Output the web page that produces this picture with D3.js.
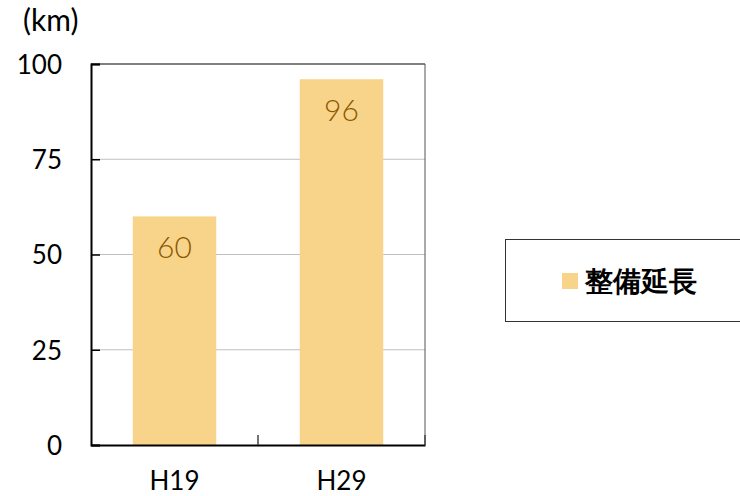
<!DOCTYPE html>
<html>
<head>
<meta charset="utf-8">
<script src="https://cdn.jsdelivr.net/npm/d3@7"></script>
<style>
  body { margin: 0; background: #fff; }
  text { font-family: Lato, "Noto Sans", sans-serif; }
</style>
</head>
<body>
<svg id="chart" width="740" height="496"></svg>
<script>
const categories = ["H19", "H29"];
const values = [60, 96];
const yTicks = [0, 25, 50, 75, 100];
const seriesName = "整備延長";
const unitLabel = "(km)";

const width = 740;
const height = 496;
const margin = { top: 64, right: 315, bottom: 51, left: 91 };
const innerW = width - margin.left - margin.right;
const innerH = height - margin.top - margin.bottom;

const svg = d3.select("#chart");

const x = d3.scaleBand()
    .domain(categories)
    .range([margin.left, margin.left + innerW])
    .paddingInner(0.5)
    .paddingOuter(0.25);

const y = d3.scaleLinear()
    .domain([0, 100])
    .range([margin.top + innerH, margin.top]);

// gridlines
svg.append("g")
    .selectAll("line")
    .data(yTicks.filter(d => d > 0 && d < 100))
    .enter().append("line")
    .attr("x1", margin.left)
    .attr("x2", margin.left + innerW)
    .attr("y1", d => y(d))
    .attr("y2", d => y(d))
    .attr("stroke", "#c0c0c0")
    .attr("stroke-width", 1);

// top and right frame
svg.append("line")
    .attr("x1", margin.left).attr("x2", margin.left + innerW)
    .attr("y1", y(100)).attr("y2", y(100))
    .attr("stroke", "#000").attr("stroke-width", 1.2);
svg.append("line")
    .attr("x1", margin.left + innerW).attr("x2", margin.left + innerW)
    .attr("y1", y(100)).attr("y2", y(0))
    .attr("stroke", "#555").attr("stroke-width", 1);

// bars
svg.append("g")
    .selectAll("rect")
    .data(values)
    .enter().append("rect")
    .attr("x", (d, i) => x(categories[i]))
    .attr("y", d => y(d))
    .attr("width", x.bandwidth())
    .attr("height", d => y(0) - y(d))
    .attr("fill", "#f8d38a");

// data labels
svg.append("g")
    .selectAll("text")
    .data(values)
    .enter().append("text")
    .attr("x", (d, i) => x(categories[i]) + x.bandwidth() / 2)
    .attr("y", d => y(d) + 42)
    .attr("text-anchor", "middle")
    .attr("font-size", 30)
    .attr("font-weight", 300)
    .attr("fill", "#8a5800")
    .text(d => d);

// y axis
const yAxis = svg.append("g")
    .attr("transform", `translate(${margin.left},0)`)
    .call(d3.axisLeft(y).tickValues(yTicks).tickSize(-9).tickPadding(29));
yAxis.select(".domain").attr("stroke", "#000").attr("stroke-width", 2);
yAxis.selectAll(".tick line").attr("stroke", "#000").attr("stroke-width", 1.5);
yAxis.selectAll(".tick text")
    .attr("font-size", 26)
    .attr("font-family", "Lato, sans-serif")
    .attr("fill", "#000")
    .attr("dy", "0.36em");

// x axis
const xAxis = svg.append("g")
    .attr("transform", `translate(0,${y(0)})`)
    .call(d3.axisBottom(x).tickSize(0).tickPadding(27));
xAxis.select(".domain").attr("stroke", "#000").attr("stroke-width", 2);
xAxis.selectAll(".tick text")
    .attr("font-size", 26)
    .attr("font-family", "Lato, sans-serif")
    .attr("fill", "#000");

// category boundary ticks (pointing inward)
const step = x.step();
svg.append("g")
    .selectAll("line")
    .data(categories)
    .enter().append("line")
    .attr("x1", (d, i) => margin.left + step * (i + 1))
    .attr("x2", (d, i) => margin.left + step * (i + 1))
    .attr("y1", y(0))
    .attr("y2", y(0) - 10)
    .attr("stroke", "#444")
    .attr("stroke-width", 1.5);

// unit label
svg.append("text")
    .attr("x", 23)
    .attr("y", 31)
    .attr("font-size", 30)
    .attr("fill", "#000")
    .text(unitLabel);

// legend
const legend = svg.append("g");
legend.append("rect")
    .attr("x", 505.5)
    .attr("y", 239.5)
    .attr("width", 240)
    .attr("height", 82)
    .attr("fill", "#fff")
    .attr("stroke", "#333")
    .attr("stroke-width", 1);
legend.append("rect")
    .attr("x", 562)
    .attr("y", 273)
    .attr("width", 16)
    .attr("height", 16)
    .attr("fill", "#f8d38a");
legend.append("text")
    .attr("x", 585)
    .attr("y", 291)
    .attr("font-size", 28)
    .attr("font-weight", "bold")
    .attr("font-family", "'Noto Sans CJK JP', sans-serif")
    .attr("fill", "#000")
    .text(seriesName);
</script>
</body>
</html>
